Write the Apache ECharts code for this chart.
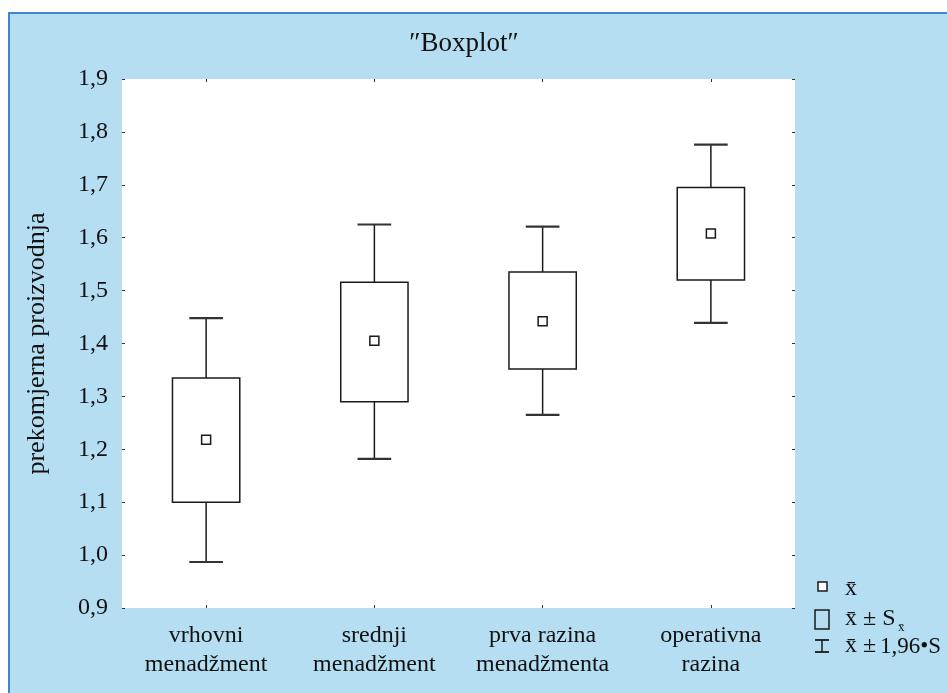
<!DOCTYPE html>
<html><head><meta charset="utf-8">
<script src="https://cdn.jsdelivr.net/npm/echarts@6/dist/echarts.min.js"></script>
<style>html,body{margin:0;padding:0;background:#fff}#c{width:947px;height:693px}</style>
</head><body><div id="c"></div>
<script>
const categories = ['vrhovni\nmenadžment', 'srednji\nmenadžment', 'prva razina\nmenadžmenta', 'operativna\nrazina'];
const whiskerLow  = [0.987, 1.182, 1.265, 1.439];
const boxLow      = [1.100, 1.290, 1.352, 1.520];
const means       = [1.218, 1.405, 1.442, 1.608];
const boxHigh     = [1.335, 1.516, 1.535, 1.695];
const whiskerHigh = [1.448, 1.625, 1.621, 1.776];
const yMin = 0.9, yMax = 1.9, yStep = 0.1;

const FONT = '"Liberation Serif", "DejaVu Serif", serif';
const INK = '#1a1a1a';

const data = categories.map((c, i) => [i, whiskerLow[i], boxLow[i], means[i], boxHigh[i], whiskerHigh[i]]);

function renderItem(params, api) {
  const i = api.value(0);
  const pLow = api.coord([i, api.value(1)]);
  const pBL = api.coord([i, api.value(2)]);
  const pM = api.coord([i, api.value(3)]);
  const pBH = api.coord([i, api.value(4)]);
  const pHigh = api.coord([i, api.value(5)]);
  const band = api.size([1, 0])[0];
  const bw = band * 0.40, cw = band * 0.20, ms = 9;
  const x = pM[0];
  const st = {stroke: INK, lineWidth: 1.5, fill: null};
  const cap = {stroke: '#333', lineWidth: 2.2};
  return {type: 'group', children: [
    {type: 'line', shape: {x1: x, y1: pLow[1], x2: x, y2: pBL[1]}, style: st},
    {type: 'line', shape: {x1: x, y1: pBH[1], x2: x, y2: pHigh[1]}, style: st},
    {type: 'line', shape: {x1: x - cw/2, y1: pLow[1], x2: x + cw/2, y2: pLow[1]}, style: cap},
    {type: 'line', shape: {x1: x - cw/2, y1: pHigh[1], x2: x + cw/2, y2: pHigh[1]}, style: cap},
    {type: 'rect', shape: {x: x - bw/2, y: pBH[1], width: bw, height: pBL[1] - pBH[1]}, style: {stroke: INK, lineWidth: 1.5, fill: '#fff'}},
    {type: 'rect', shape: {x: x - ms/2, y: pM[1] - ms/2, width: ms, height: ms}, style: {stroke: INK, lineWidth: 1.5, fill: '#fff'}}
  ]};
}

const chart = echarts.init(document.getElementById('c'));
const tickStyle = {show: true, inside: true, length: 3, lineStyle: {color: '#333', width: 1}};
chart.setOption({
  backgroundColor: '#fff',
  animation: false,
  title: {text: '\u2033Boxplot\u2033', left: 459, top: 25, textAlign: 'center',
    textStyle: {fontFamily: FONT, fontSize: 27, fontWeight: 'normal', color: '#111'}},
  graphic: [
    {type: 'rect', z: -10, silent: true, shape: {x: 9, y: 13, width: 960, height: 700},
     style: {fill: '#b5def2', stroke: '#3a88d2', lineWidth: 2}},
    // legend
    {type: 'rect', shape: {x: 818, y: 582, width: 9, height: 9}, style: {stroke: INK, lineWidth: 1.5, fill: '#fff'}},
    {type: 'rect', shape: {x: 815, y: 610, width: 14, height: 19}, style: {stroke: INK, lineWidth: 1.5, fill: null}},
    {type: 'line', shape: {x1: 822, y1: 640, x2: 822, y2: 652}, style: {stroke: INK, lineWidth: 1.5}},
    {type: 'line', shape: {x1: 815, y1: 640, x2: 829, y2: 640}, style: {stroke: INK, lineWidth: 1.8}},
    {type: 'line', shape: {x1: 815, y1: 652, x2: 829, y2: 652}, style: {stroke: INK, lineWidth: 1.8}},
    {type: 'text', style: {x: 845, y: 589, text: 'x\u0304', font: '24px ' + FONT, fill: '#111', verticalAlign: 'middle'}},
    {type: 'text', style: {x: 845, y: 619, text: 'x\u0304 \u00b1 S', font: '24px ' + FONT, fill: '#111', verticalAlign: 'middle'}},
    {type: 'text', style: {x: 898, y: 628, text: 'x\u0304', font: '13px ' + FONT, fill: '#111', verticalAlign: 'middle'}},
    {type: 'text', style: {x: 845, y: 646, text: 'x\u0304 \u00b1 ', font: '24px ' + FONT, fill: '#111', verticalAlign: 'middle'}},
    {type: 'text', style: {x: 880, y: 647, text: '1,96\u2022S', font: '23px ' + FONT, fill: '#111', verticalAlign: 'middle'}}
  ],
  grid: {left: 122, right: 152, top: 79, bottom: 85, show: true, backgroundColor: '#fff', borderWidth: 0},
  xAxis: [
    {type: 'category', data: categories, axisLine: {show: false},
     axisTick: Object.assign({alignWithLabel: true}, tickStyle),
     axisLabel: {interval: 0, fontFamily: FONT, fontSize: 24, color: '#111', lineHeight: 29, margin: 13}},
    {type: 'category', data: categories, position: 'top', axisLine: {show: false},
     axisTick: Object.assign({alignWithLabel: true}, tickStyle), axisLabel: {show: false}}
  ],
  yAxis: [
    {type: 'value', min: yMin, max: yMax, interval: yStep, axisLine: {show: false}, splitLine: {show: false},
     axisTick: tickStyle,
     axisLabel: {fontFamily: FONT, fontSize: 24, color: '#111', margin: 14,
       formatter: v => v.toFixed(1).replace('.', ',')},
     name: 'prekomjerna proizvodnja', nameLocation: 'middle', nameGap: 72,
     nameTextStyle: {fontFamily: FONT, fontSize: 26, color: '#111'}},
    {type: 'value', min: yMin, max: yMax, interval: yStep, position: 'right', axisLine: {show: false},
     splitLine: {show: false}, axisTick: tickStyle, axisLabel: {show: false}}
  ],
  series: [{type: 'custom', renderItem: renderItem, data: data, encode: {x: 0, y: [1, 2, 3, 4, 5]}, z: 5}]
});
</script></body></html>
